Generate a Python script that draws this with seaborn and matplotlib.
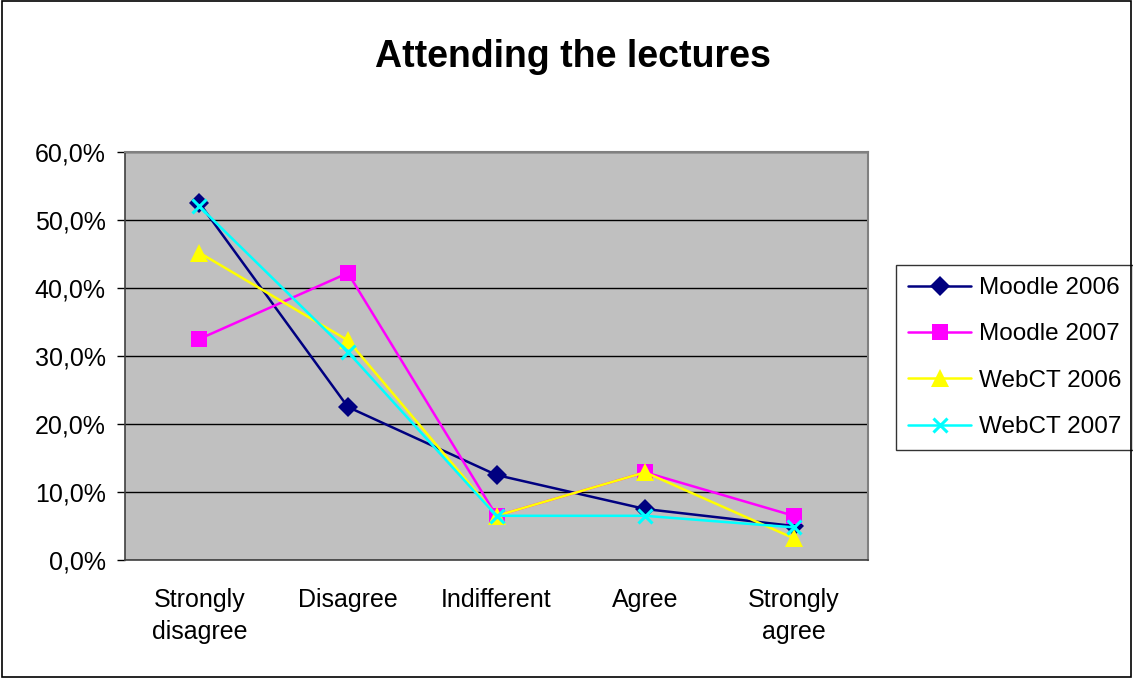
import numpy as np
import matplotlib
matplotlib.use('Agg')
import matplotlib.pyplot as plt
import matplotlib.ticker as mticker
import pandas as pd
import seaborn as sns

categories = ['Strongly\ndisagree', 'Disagree', 'Indifferent', 'Agree', 'Strongly\nagree']
moodle_2006 = [52.5, 22.5, 12.5, 7.5, 5.0]
moodle_2007 = [32.5, 42.2, 6.5, 12.9, 6.5]
webct_2006 = [45.2, 32.3, 6.5, 12.9, 3.2]
webct_2007 = [52.0, 30.6, 6.5, 6.5, 4.8]
series_names = ['Moodle 2006', 'Moodle 2007', 'WebCT 2006', 'WebCT 2007']

rows = []
for name, vals in zip(series_names, [moodle_2006, moodle_2007, webct_2006, webct_2007]):
    for i, v in enumerate(vals):
        rows.append({'pos': i, 'value': v, 'series': name})
df = pd.DataFrame(rows)

sns.set_style('white')
plt.rcParams['font.family'] = ['Liberation Sans', 'DejaVu Sans']
plt.rcParams['text.color'] = 'black'
plt.rcParams['xtick.color'] = 'black'
plt.rcParams['ytick.color'] = 'black'

fig = plt.figure(figsize=(11.33, 6.78), dpi=100)
ax = fig.add_axes([125 / 1133, 1 - 560 / 678, (868 - 125) / 1133, (560 - 152) / 678])
ax.set_facecolor('#C0C0C0')

palette = {'Moodle 2006': '#000080', 'Moodle 2007': '#FF00FF',
           'WebCT 2006': '#FFFF00', 'WebCT 2007': '#00FFFF'}
markers = {'Moodle 2006': 'D', 'Moodle 2007': 's',
           'WebCT 2006': '^', 'WebCT 2007': 'X'}
sizes = {'Moodle 2006': 10, 'Moodle 2007': 11, 'WebCT 2006': 13, 'WebCT 2007': 10}

for name in series_names:
    sub = df[df['series'] == name]
    mk = markers[name]
    kw = dict(markersize=sizes[name], markeredgewidth=0)
    if name == 'WebCT 2007':
        mk = 'x'
        kw = dict(markersize=10, markeredgewidth=2.2)
    sns.lineplot(data=sub, x='pos', y='value', ax=ax, color=palette[name],
                 marker=mk, linewidth=1.8, label=name, markeredgecolor=palette[name], **kw)

ax.set_xlim(-0.5, 4.5)
ax.set_ylim(0, 60)
ax.set_yticks(np.arange(0, 61, 10))
ax.yaxis.set_major_formatter(mticker.FuncFormatter(lambda v, p: f'{v:.1f}%'.replace('.', ',')))
ax.set_xticks(range(5))
ax.set_xticklabels(categories, linespacing=1.45)
ax.set_xticks(np.arange(-0.5, 5, 1), minor=True)
ax.tick_params(axis='x', which='major', length=0, pad=20, labelsize=18)
ax.tick_params(axis='x', which='minor', length=6, width=1, color='black', direction='out')
ax.tick_params(axis='y', length=6, width=1, color='black', direction='out', labelsize=18,
               left=True, pad=8)
ax.grid(axis='y', color='black', linewidth=1)
ax.set_axisbelow(True)
ax.set_xlabel('')
ax.set_ylabel('')
for s in ['top', 'right']:
    ax.spines[s].set_color('#808080')
    ax.spines[s].set_linewidth(1.5)
for s in ['left', 'bottom']:
    ax.spines[s].set_color('#404040')
    ax.spines[s].set_linewidth(1.2)

leg = ax.legend(loc='upper left', bbox_to_anchor=(896 / 1133, 1 - 265 / 678),
                bbox_transform=fig.transFigure, frameon=True, fancybox=False,
                fontsize=17.5, handlelength=2.6, labelspacing=1.0, borderpad=0.5,
                handletextpad=0.3, borderaxespad=0)
leg.get_frame().set_edgecolor('black')
leg.get_frame().set_linewidth(1)

fig.text(573 / 1133, 1 - 57 / 678, 'Attending the lectures', ha='center', va='center',
         fontsize=27, fontweight='bold')

fig.patches.append(plt.Rectangle((0.002, 0.002), 0.996, 0.996, transform=fig.transFigure,
                                 fill=False, edgecolor='black', linewidth=1.2))

fig.savefig('out.png', dpi=100)
